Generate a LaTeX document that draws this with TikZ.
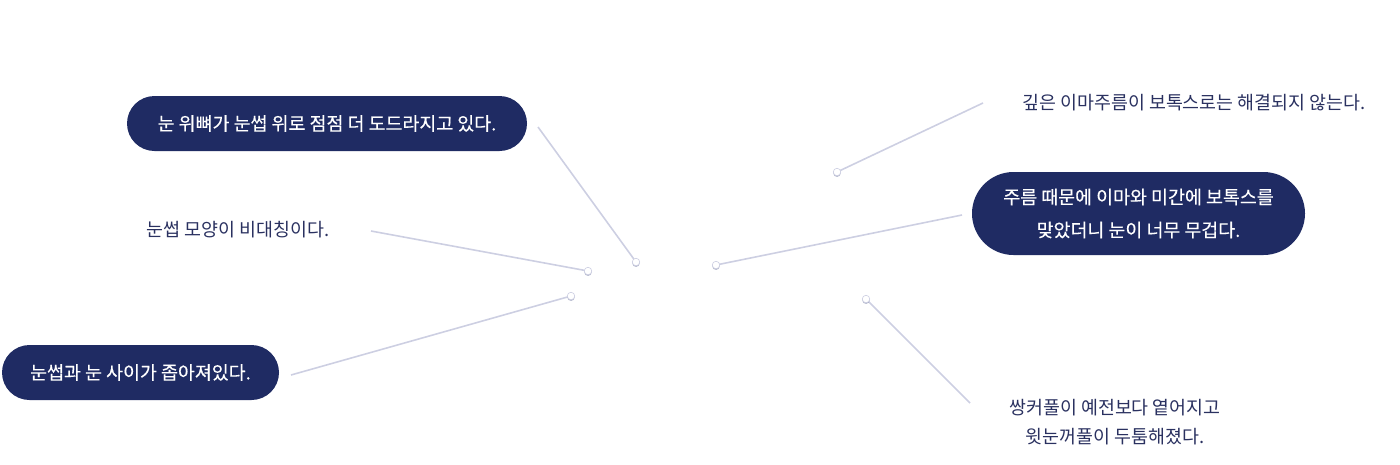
\documentclass[tikz,border=0pt]{standalone}
\usepackage{fontspec}
\setmainfont{Noto Sans CJK KR}
\newfontfamily\medium[FakeBold=0.3]{Noto Sans CJK KR}
\usetikzlibrary{shadows}
\definecolor{navy}{HTML}{1F2B63}
\definecolor{ink}{HTML}{2A3160}
\definecolor{wire}{HTML}{CDCFE2}
\begin{document}
\begin{tikzpicture}[x=1pt, y=-1pt,
    pill/.style={fill=navy, text=white, align=center, font=\medium\fontsize{18.4}{33}\selectfont},
    note/.style={text=ink, align=center, font=\fontsize{18.4}{29}\selectfont},
    wire/.style={draw=wire, line width=1.6pt},
    dot/.style={circle, fill=white, draw=wire, line width=0.6pt, inner sep=0pt, minimum size=7.5pt,
        drop shadow={shadow xshift=0pt, shadow yshift=-1.2pt, fill=wire!60!navy, opacity=0.6}}]
    \useasboundingbox (0, 0) rectangle (1400, 464);
    \node[pill, minimum width=400, minimum height=55, rounded corners=27.5] (bone) at (327, 123.5) {눈 위뼈가 눈썹 위로 점점 더 도드라지고 있다.};
    \node[note] (shape) at (238, 230) {눈썹 모양이 비대칭이다.};
    \node[pill, minimum width=277, minimum height=55, rounded corners=27.5] (gap) at (140.5, 372.5) {눈썹과 눈 사이가 좁아져있다.};
    \node[note] (wrinkle) at (1194, 103) {깊은 이마주름이 보톡스로는 해결되지 않는다.};
    \node[pill, minimum width=333, minimum height=83, rounded corners=41.5] (botox) at (1138.5, 213.5) {주름 때문에 이마와 미간에 보톡스를\\맞았더니 눈이 너무 무겁다.};
    \node[note] (lid) at (1115, 422.5) {쌍커풀이 예전보다 옅어지고\\윗눈꺼풀이 두툼해졌다.};
    \coordinate (e1) at (538, 127);
    \coordinate (e2) at (371, 231);
    \coordinate (e3) at (291, 375);
    \coordinate (e4) at (962, 215);
    \coordinate (e5) at (983, 103);
    \coordinate (e6) at (970, 403);
    \coordinate (c1) at (636, 262);
    \coordinate (c2) at (588, 271);
    \coordinate (c3) at (571, 296);
    \coordinate (c4) at (716, 265);
    \coordinate (c5) at (837, 172);
    \coordinate (c6) at (866, 299);
    \draw[wire] (e1) -- (c1);
    \draw[wire] (e2) -- (c2);
    \draw[wire] (e3) -- (c3);
    \draw[wire] (c4) -- (e4);
    \draw[wire] (c5) -- (e5);
    \draw[wire] (c6) -- (e6);
    \foreach \i in {1,...,6}
        \node[dot] (d\i) at (c\i) {};
\end{tikzpicture}
\end{document}
